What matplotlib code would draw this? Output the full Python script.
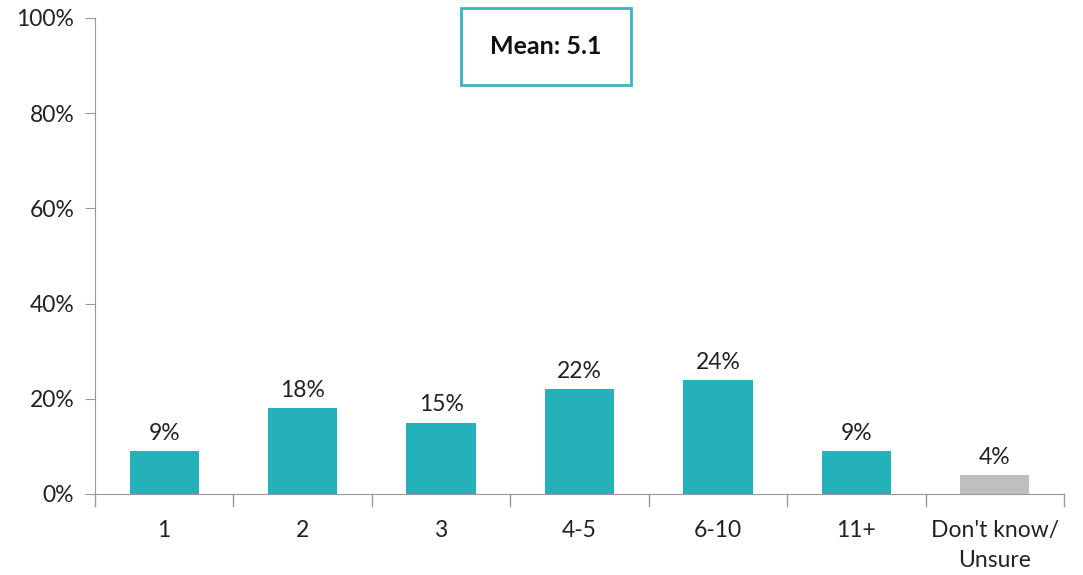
import matplotlib
matplotlib.use("Agg")
import matplotlib.pyplot as plt
from matplotlib.patches import Rectangle

categories = ["1", "2", "3", "4-5", "6-10", "11+", "Don't know/\nUnsure"]
values = [9, 18, 15, 22, 24, 9, 4]
colors = ["#24B1BA"] * 6 + ["#BFBFBF"]
yticks = [0, 20, 40, 60, 80, 100]
mean_text = "Mean: 5.1"

plt.rcParams['font.family'] = ['Lato', 'DejaVu Sans']
FS = 16.5

fig = plt.figure(figsize=(10.83, 5.75), dpi=100)
ax = fig.add_axes([95/1083, 1-494/575, (1064-95)/1083, (494-18)/575])

x = list(range(len(categories)))
ax.bar(x, values, width=0.5, color=colors)
for xi, v in zip(x, values):
    ax.text(xi, v + 1.5, f"{v}%", ha='center', va='bottom', fontsize=FS, color='#222222')

ax.set_xlim(-0.5, len(categories) - 0.5)
ax.set_ylim(0, 100)
ax.set_yticks(yticks)
ax.set_yticklabels([f"{t}%" for t in yticks], fontsize=FS, color='#222222')
ax.set_xticks(x)
ax.set_xticklabels(categories, fontsize=FS, color='#222222', linespacing=1.5)
ax.tick_params(axis='x', length=0, pad=19)
ax.tick_params(axis='y', length=7, color='#999999', pad=8)
# boundary ticks on x axis
for b in [i - 0.5 for i in range(len(categories) + 1)]:
    ax.plot([b, b], [0, -2.5], color='#999999', lw=1, clip_on=False)

for s in ['top', 'right']:
    ax.spines[s].set_visible(False)
ax.spines['left'].set_color('#999999')
ax.spines['bottom'].set_color('#999999')

# mean box
bx0, by0, bw, bh = 461/1083, 1-85/575, 170/1083, 77/575
fig.patches.append(Rectangle((bx0, by0), bw, bh, transform=fig.transFigure,
                             fill=False, edgecolor='#3BB3BC', lw=2))
fig.text(bx0 + bw/2, by0 + bh/2, mean_text, ha='center', va='center',
         fontsize=18, fontweight='bold', color='#111111')

fig.savefig("out.png", dpi=100)
